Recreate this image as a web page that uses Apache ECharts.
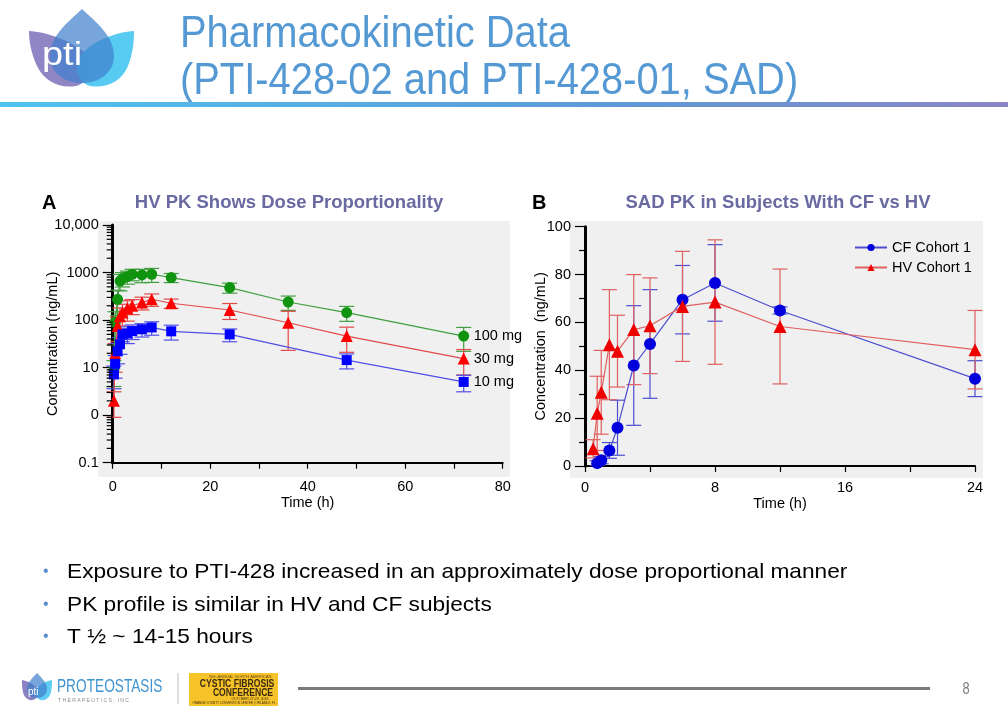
<!DOCTYPE html>
<html>
<head>
<meta charset="utf-8">
<style>
html,body{margin:0;padding:0;background:#fff;}
#chart{width:1008px;height:720px;}
</style>
<script src="https://cdn.jsdelivr.net/npm/echarts@6.0.0/dist/echarts.min.js"></script>
</head>
<body>
<div id="chart"></div>
<script>
// ---------- Panel A data (HV, log scale) ----------
const timeA = [0.25, 0.5, 1, 1.5, 2, 3, 4, 6, 8, 12, 24, 36, 48, 72];
const mg100Mean = [9, 90, 274, 660, 747, 820, 920, 890, 920, 785, 483, 240, 144, 46];
const mg100SD   = [5, 60, 150, 250, 250, 250, 250, 280, 300, 170, 115, 80, 50, 24];
const mg30Mean  = [2, 20, 75, 120, 145, 175, 200, 233, 274, 226, 163, 88, 46, 15.5];
const mg30SD    = [1.1, 12, 40, 60, 70, 80, 70, 70, 80, 50, 60, 65, 25, 8.5];
const mg10Mean  = [7.2, 12, 22, 31, 50, 52, 59, 64, 70, 58, 50, null, 14.4, 5];
const mg10SD    = [3.6, 6, 10, 12, 15, 20, 20, 20, 22, 20, 15, null, 5, 1.9];
const seriesNamesA = ['100 mg', '30 mg', '10 mg'];
const yTickLabelsA = ['0.1', '0', '10', '100', '1000', '10,000'];
const yMinorTicksA = [2, 3, 4, 5, 6, 7, 8, 9];

// ---------- Panel B data (CF vs HV, linear) ----------
const timeCF = [0.75, 1, 1.5, 2, 3, 4, 6, 8, 12, 24];
const cfMean = [1.2, 2.4, 6.5, 16, 42, 51, 69.5, 76.5, 65, 36.5];
const cfSD   = [1, 1.5, 3.3, 11.5, 25, 22.7, 14.3, 16, 1.5, 7.5];
const timeHV = [0.5, 0.75, 1, 1.5, 2, 3, 4, 6, 8, 12, 24];
const hvMean = [7.2, 22, 30.8, 50.7, 48, 57, 58.6, 66.7, 68.5, 58.3, 48.6];
const hvSD   = [3.8, 15.5, 17.5, 23, 15, 23, 20, 23, 26, 24, 16.4];
const seriesNamesB = ['CF Cohort 1', 'HV Cohort 1'];

const FONT = "'Liberation Sans', Arial, sans-serif";

function pts(t, m) { return t.map((x, i) => [x, m[i]]); }
function errs(t, m, s, floor) {
  const out = [];
  t.forEach((x, i) => {
    if (m[i] == null) return;
    out.push([x, Math.max(m[i] - s[i], floor), m[i] + s[i]]);
  });
  return out;
}
function errSeries(data, color, xi, capHalf) {
  return {
    type: 'custom', xAxisIndex: xi, yAxisIndex: xi, z: 2, clip: false, silent: true,
    encode: { x: 0, y: [1, 2] },
    data: data,
    renderItem: function (params, api) {
      const x = api.value(0), lo = api.value(1), hi = api.value(2);
      const a = api.coord([x, hi]), b = api.coord([x, lo]);
      const st = { stroke: color, lineWidth: 1.2 };
      return { type: 'group', children: [
        { type: 'line', shape: { x1: a[0], y1: a[1], x2: b[0], y2: b[1] }, style: st },
        { type: 'line', shape: { x1: a[0] - capHalf, y1: a[1], x2: a[0] + capHalf, y2: a[1] }, style: st },
        { type: 'line', shape: { x1: b[0] - capHalf, y1: b[1], x2: b[0] + capHalf, y2: b[1] }, style: st }
      ]};
    }
  };
}
function lineSeries(name, data, markerColor, lineColor, symbol, size, xi, endLabel) {
  const s = {
    name: name, type: 'line', xAxisIndex: xi, yAxisIndex: xi, z: 3,
    data: data, connectNulls: true,
    symbol: symbol, symbolSize: size, showAllSymbol: true,
    itemStyle: { color: markerColor },
    lineStyle: { color: lineColor, width: 1.2 },
    emphasis: { disabled: true }
  };
  if (endLabel) {
    s.endLabel = { show: true, formatter: name, distance: 10, color: '#000', fontSize: 14.5, fontFamily: FONT };
  }
  return s;
}

const minorA = [];
for (let k = -1; k < 4; k++) yMinorTicksA.forEach(m => minorA.push([0, m * Math.pow(10, k)]));

const axisText = { color: '#000', fontSize: 14.5, fontFamily: FONT };
const nameText = { color: '#000', fontSize: 14.5, fontFamily: FONT };

// decorative logo shapes (not data)
const logoSeries = {
  type: 'custom', coordinateSystem: 'none', silent: true, z: 10,
  data: [[0]],
  renderItem: function () {
    return { type: 'group', children: [
      { type: 'path', shape: { pathData: 'M29,31 C46,32 72,40 88,56 C95,68 90,82 76,86 C60,89 44,81 37,66 C31,53 29,41 29,31 Z' }, style: { fill: '#8a80c2', opacity: 0.95 } },
      { type: 'path', shape: { pathData: 'M134,31 C117,32 93,40 80,56 C73,68 77,82 90,86 C106,89 122,81 128,66 C133,53 134,41 134,31 Z' }, style: { fill: '#4ec8f0', opacity: 0.95 } },
      { type: 'path', shape: { pathData: 'M82,9 C96,22 114,36 114,56 C114,73 99,83 82,83 C65,83 50,73 50,56 C50,36 68,22 82,9 Z' }, style: { fill: '#3f7fcc', opacity: 0.7 } },
      { type: 'text', x: 42, y: 72, scaleX: 1.15, style: { text: 'pti', x: 0, y: 0, fill: '#fff', font: '33px ' + FONT, verticalAlign: 'bottom' } },
      { type: 'path', shape: { pathData: 'M22,680 C28,681 34,684 38,689 C40,694 37,699 33,700 C28,701 24,697 23,692 C22,688 22,684 22,680 Z' }, style: { fill: '#8a80c2' } },
      { type: 'path', shape: { pathData: 'M52,680 C46,681 40,684 36,689 C34,694 37,699 41,700 C46,701 50,697 51,692 C52,688 52,684 52,680 Z' }, style: { fill: '#4ec8f0', opacity: 0.9 } },
      { type: 'path', shape: { pathData: 'M37,673 C42,678 47,683 47,689 C47,695 42,698 37,698 C32,698 27,695 27,689 C27,683 32,678 37,673 Z' }, style: { fill: '#3f7fcc', opacity: 0.7 } },
      { type: 'text', style: { text: 'pti', x: 28, y: 692, fill: '#fff', font: '10px ' + FONT, verticalAlign: 'middle' } }
    ]};
  }
};

function txt(text, x, y, fill, font, align, vAlign, sx) {
  return { type: 'text', x: x, y: y, scaleX: sx || 1,
    style: { text: text, x: 0, y: 0, fill: fill, font: font,
      textAlign: align || 'left', textVerticalAlign: vAlign || 'middle' } };
}

const option = {
  animation: false,
  backgroundColor: '#fff',
  grid: [
    { left: 112.7, top: 225, width: 390, height: 237.7 },
    { left: 585, top: 226.7, width: 390, height: 239.3 }
  ],
  legend: {
    data: seriesNamesB, orient: 'vertical', left: 849, top: 235,
    itemWidth: 32, itemHeight: 9, itemGap: 5,
    textStyle: { color: '#000', fontSize: 14.5, fontFamily: FONT }
  },
  xAxis: [
    { gridIndex: 0, type: 'value', min: 0, max: 80, interval: 20,
      axisLine: { onZero: false, lineStyle: { color: '#000', width: 2 } },
      axisTick: { length: 6, lineStyle: { color: '#000', width: 1.2 } },
      minorTick: { show: true, splitNumber: 2, length: 6, lineStyle: { color: '#000', width: 1.2 } },
      axisLabel: Object.assign({ margin: 17 }, axisText),
      splitLine: { show: false },
      name: 'Time (h)', nameLocation: 'middle', nameGap: 33, nameMoveOverlap: false, nameTextStyle: nameText },
    { gridIndex: 1, type: 'value', min: 0, max: 24, interval: 8,
      axisLine: { onZero: false, lineStyle: { color: '#000', width: 2 } },
      axisTick: { length: 6, lineStyle: { color: '#000', width: 1.2 } },
      minorTick: { show: true, splitNumber: 2, length: 6, lineStyle: { color: '#000', width: 1.2 } },
      axisLabel: Object.assign({ margin: 14 }, axisText),
      splitLine: { show: false },
      name: 'Time (h)', nameLocation: 'middle', nameGap: 30, nameMoveOverlap: false, nameTextStyle: nameText }
  ],
  yAxis: [
    { gridIndex: 0, type: 'log', logBase: 10, min: 0.1, max: 10000,
      axisLine: { onZero: false, lineStyle: { color: '#000', width: 3 } },
      axisTick: { length: 10, lineStyle: { color: '#000', width: 1.2 } },
      axisLabel: Object.assign({ margin: 14,
        formatter: function (v) { return yTickLabelsA[Math.round(Math.log10(v)) + 1]; } }, axisText),
      splitLine: { show: false },
      name: 'Concentration (ng/mL)', nameLocation: 'middle', nameGap: 52, nameMoveOverlap: false, nameTextStyle: nameText },
    { gridIndex: 1, type: 'value', min: 0, max: 100, interval: 20,
      axisLine: { onZero: false, lineStyle: { color: '#000', width: 3 } },
      axisTick: { length: 10, lineStyle: { color: '#000', width: 1.2 } },
      minorTick: { show: true, splitNumber: 2, length: 6, lineStyle: { color: '#000', width: 1.2 } },
      axisLabel: Object.assign({ margin: 14 }, axisText),
      splitLine: { show: false },
      name: 'Concentration  (ng/mL)', nameLocation: 'middle', nameGap: 37, nameMoveOverlap: false, nameTextStyle: nameText }
  ],
  series: [
    { type: 'custom', xAxisIndex: 0, yAxisIndex: 0, clip: false, silent: true, z: 5,
      data: minorA,
      renderItem: function (params, api) {
        const p = api.coord([api.value(0), api.value(1)]);
        return { type: 'line', shape: { x1: p[0] - 6, y1: p[1], x2: p[0], y2: p[1] },
                 style: { stroke: '#000', lineWidth: 1.2 } };
      } },
    errSeries(errs(timeA, mg100Mean, mg100SD, 0.1), '#3f9f3f', 0, 7.5),
    errSeries(errs(timeA, mg30Mean, mg30SD, 0.1), '#e24a4a', 0, 7.5),
    errSeries(errs(timeA, mg10Mean, mg10SD, 0.1), '#4f4fe6', 0, 7.5),
    lineSeries(seriesNamesA[0], pts(timeA, mg100Mean), '#109410', '#3f9f3f', 'circle', 11, 0, true),
    lineSeries(seriesNamesA[1], pts(timeA, mg30Mean), '#ff0000', '#e24a4a', 'triangle', 12, 0, true),
    lineSeries(seriesNamesA[2], pts(timeA, mg10Mean), '#0000ff', '#4f4fe6', 'rect', 10, 0, true),
    errSeries(errs(timeCF, cfMean, cfSD, 0), '#4d4dd0', 1, 7.5),
    errSeries(errs(timeHV, hvMean, hvSD, 0), '#e06060', 1, 7.5),
    lineSeries(seriesNamesB[0], pts(timeCF, cfMean), '#0000dd', '#4d4dd0', 'circle', 12, 1, false),
    lineSeries(seriesNamesB[1], pts(timeHV, hvMean), '#ee0000', '#e06060', 'triangle', 13, 1, false),
    logoSeries
  ],
  graphic: [
    { type: 'rect', z: -10, shape: { x: 98, y: 221, width: 412, height: 256 }, style: { fill: '#f0f0f0' } },
    { type: 'rect', z: -10, shape: { x: 570, y: 221, width: 413, height: 257 }, style: { fill: '#f0f0f0' } },
    txt('Pharmacokinetic Data', 180, 57, '#5499d3', '44px ' + FONT, 'left', 'bottom', 0.906),
    txt('(PTI-428-02 and PTI-428-01, SAD)', 180, 104, '#5499d3', '44px ' + FONT, 'left', 'bottom', 0.906),
    { type: 'rect', shape: { x: 0, y: 102, width: 1008, height: 5 },
      style: { fill: new echarts.graphic.LinearGradient(0, 0, 1, 0, [
        { offset: 0, color: '#4fc4ec' }, { offset: 0.6, color: '#5d9ad6' }, { offset: 1, color: '#8a84c4' }]) } },
    txt('A', 42, 203, '#000', 'bold 20px ' + FONT),
    txt('HV PK Shows Dose Proportionality', 289, 203, '#6a6aa2', 'bold 18.5px ' + FONT, 'center'),
    txt('B', 532, 203, '#000', 'bold 20px ' + FONT),
    txt('SAD PK in Subjects With CF vs HV', 778, 203, '#6a6aa2', 'bold 18.5px ' + FONT, 'center'),
    txt('•', 43, 572, '#5a8fd0', '16px ' + FONT),
    txt('Exposure to PTI-428 increased in an approximately dose proportional manner', 67, 572, '#000', '21px ' + FONT, 'left', 'middle', 1.08),
    txt('•', 43, 605, '#5a8fd0', '16px ' + FONT),
    txt('PK profile is similar in HV and CF subjects', 67, 605, '#000', '21px ' + FONT, 'left', 'middle', 1.08),
    txt('•', 43, 637, '#5a8fd0', '16px ' + FONT),
    txt('T ½ ~ 14-15 hours', 67, 637, '#000', '21px ' + FONT, 'left', 'middle', 1.08),
    txt('PROTEOSTASIS', 57, 687, '#3f93cf', '19px ' + FONT, 'left', 'middle', 0.72),
    txt('T H E R A P E U T I C S ,  I N C .', 58, 701, '#8a8a8a', '5px ' + FONT),
    { type: 'line', shape: { x1: 178, y1: 673, x2: 178, y2: 704 }, style: { stroke: '#bdbdbd', lineWidth: 1 } },
    { type: 'rect', shape: { x: 189, y: 673, width: 89, height: 33 }, style: { fill: '#f6c42a' } },
    txt('30th ANNUAL NORTH AMERICAN', 240, 677, '#6b4a10', '4px ' + FONT, 'center'),
    txt('CYSTIC FIBROSIS', 237, 684, '#3a2a10', 'bold 10px ' + FONT, 'center', 'middle', 0.86),
    txt('CONFERENCE', 243, 693, '#3a2a10', 'bold 10px ' + FONT, 'center', 'middle', 0.86),
    txt('OCTOBER 27-29, 2016', 250, 699.5, '#3a2a10', '3.5px ' + FONT, 'center'),
    txt('ORANGE COUNTY CONVENTION CENTER | ORLANDO, FL', 234, 703.5, '#3a2a10', '3px ' + FONT, 'center'),
    { type: 'rect', shape: { x: 298, y: 687, width: 632, height: 3 }, style: { fill: '#7a7a7a' } },
    txt('8', 966, 690, '#7c7c7c', '16px ' + FONT, 'center', 'middle', 0.8)
  ]
};

const chart = echarts.init(document.getElementById('chart'), null, { renderer: 'canvas' });
chart.setOption(option);
</script>
</body>
</html>
